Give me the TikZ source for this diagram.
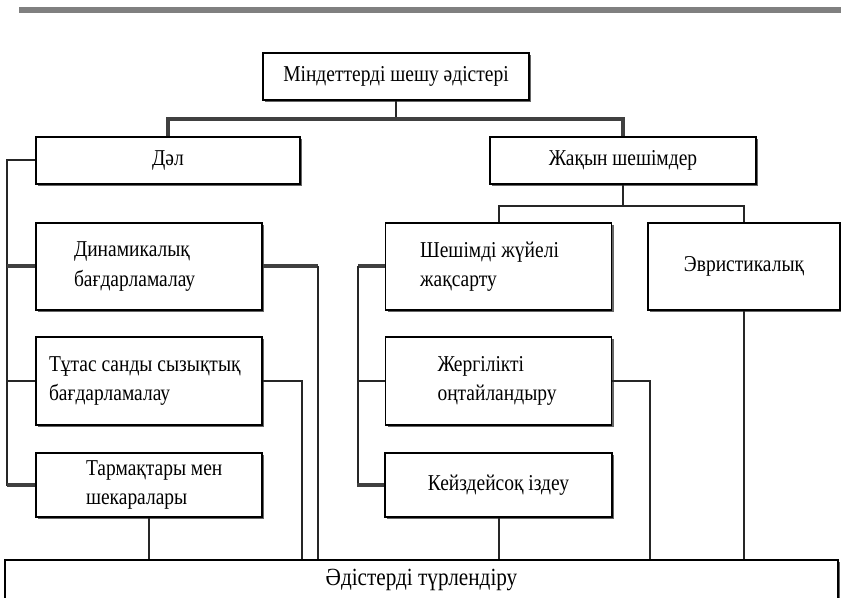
\documentclass[tikz,border=0pt]{standalone}
\usepackage{fontspec}
\setmainfont[FakeStretch=0.86]{Liberation Serif}
\usetikzlibrary{shadows}

\begin{document}
\begin{tikzpicture}[x=0.75pt, y=-0.75pt,
        font=\fontsize{17}{22}\selectfont,
        box/.style={draw=black, line width=1.3pt, fill=white, inner sep=0pt,
            drop shadow={shadow xshift=1.5pt, shadow yshift=-1.5pt, fill=black!60, opacity=1}},
        lbox/.style={box, align=flush left, text width=169.5pt, minimum height=#1},
        indent/.style={execute at begin node={\leftskip=#1}},
        link/.style={draw=black!85, line width=1.5pt},
        heavy/.style={draw=black!75, line width=3pt}]
        \useasboundingbox (0,0) rectangle (841,598);
        \draw[black!50, line width=4.5pt] (19,10) -- (841,10); % жоғарғы сызық
        % қораптар
        \node[box, minimum width=199.5pt, minimum height=35.25pt] (main) at (396,76.5) {Міндеттерді шешу әдістері};
        \node[box, minimum width=198pt, minimum height=35.25pt] (dal) at (168,160.5) {Дәл};
        \node[box, minimum width=199.5pt, minimum height=35.25pt] (zhaqyn) at (623,160.5) {Жақын шешімдер};
        \node[lbox=65.25pt, indent=28.5pt] (dinam) at (149,266.5) {Динамикалық\\бағдарламалау};
        \node[lbox=66pt, indent=9.75pt] (tutas) at (149,381) {Тұтас санды сызықтық\\бағдарламалау};
        \node[lbox=48pt, indent=37.5pt] (tarmaq) at (149,485) {Тармақтары мен\\шекаралары};
        \node[lbox=65.25pt, indent=26pt] (shesh) at (498.5,266.5) {Шешімді жүйелі\\жақсарту};
        \node[lbox=66pt, indent=39pt] (zherg) at (498.5,381) {Жергілікті\\оңтайландыру};
        \node[box, minimum width=170.25pt, minimum height=48pt] (keiz) at (498.5,485) {Кейздейсоқ іздеу};
        \node[box, minimum width=144pt, minimum height=65.25pt] (evr) at (744,266.5) {Эвристикалық};
        \node[box, minimum width=624.75pt, minimum height=30pt, font=\fontsize{18.5}{22}\selectfont] (turlend) at (421.5,580) {Әдістерді түрлендіру};
        % жоғарғы тармақ
        \coordinate (top) at (396,119);
        \draw[link] (main) -- (top);
        \draw[heavy] (dal) |- (top) -| (zhaqyn);
        % Дәл
        \draw[link] (dal.west) -- ++(-28,0) |- (tarmaq.west);
        \draw[heavy] (dinam.west) -- ++(-28,0);
        \draw[link] (tutas.west) -- ++(-28,0);
        \draw[heavy] (tarmaq.west) -- ++(-28,0);
        \draw[heavy] (dinam.east) -- ++(55,0) coordinate (d1);
        \draw[link] (d1) -- (d1 |- turlend.north);
        \draw[link] (tutas.east) -- ++(39,0) coordinate (t1) -- (t1 |- turlend.north);
        \draw[link] (tarmaq) -- (tarmaq |- turlend.north);
        % Жақын шешімдер
        \draw[link] (zhaqyn.south) -- ++(0,21) coordinate (j1);
        \draw[link] (shesh) |- (j1) -| (evr);
        \draw[heavy] (shesh.west) -- ++(-27,0) coordinate (r1);
        \draw[link] (r1) |- (keiz.west);
        \draw[link] (zherg.west) -- ++(-27,0);
        \draw[heavy] (keiz.west) -- ++(-27,0);
        \draw[link] (zherg.east) -- ++(38,0) coordinate (z1) -- (z1 |- turlend.north);
        \draw[link] (keiz) -- (keiz |- turlend.north);
        \draw[link] (evr) -- (evr |- turlend.north);
    \end{tikzpicture}
\end{document}
